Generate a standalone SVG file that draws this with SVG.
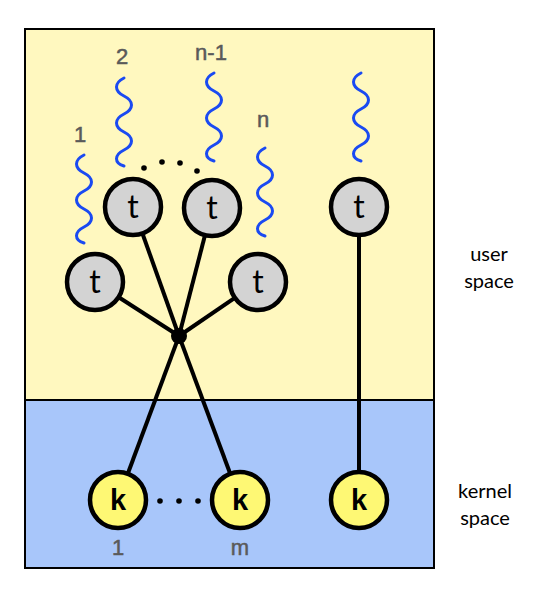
<svg xmlns="http://www.w3.org/2000/svg" width="536" height="594" viewBox="0 0 536 594">
<style>
.conn{stroke:#000;stroke-width:4;fill:none}
.wave{stroke:#1a4af2;stroke-width:3;fill:none;stroke-linecap:round}
.tn{fill:#d3d3d3;stroke:#000;stroke-width:4.5}
.kn{fill:#fef874;stroke:#000;stroke-width:4.5}
.tl{font-family:Lato,"Open Sans",sans-serif;font-size:32px;fill:#000;text-anchor:middle}
.kl{font-family:"Liberation Sans",Arial,sans-serif;font-weight:bold;font-size:29px;fill:#000;text-anchor:middle}
.num{font-family:"Liberation Sans",Arial,sans-serif;font-size:22px;fill:#5a5a5a;stroke:#5a5a5a;stroke-width:0.5;text-anchor:middle}
.side{font-family:Lato,"Open Sans",sans-serif;font-size:20px;fill:#000;text-anchor:middle}
</style>
<g id="background">
<rect x="25" y="29" width="409" height="371" fill="#fff8bf"/>
<rect x="25" y="400" width="409" height="168" fill="#a8c6fa"/>
<line x1="25" y1="400" x2="434" y2="400" stroke="#000" stroke-width="2"/>
<rect x="25" y="29" width="409" height="539" fill="none" stroke="#000" stroke-width="2"/>
</g>
<g id="waves">
<path class="wave" d="M84,155 c-10,5 -10,13 0,18 s10,13 0,18 s-10,13 0,18 s10,13 0,18 s-10,13 0,16"/>
<path class="wave" d="M124,78 c-10,5 -10,13 0,18 s10,13 0,18 s-10,13 0,18 s10,13 0,18 s-10,13 0,16"/>
<path class="wave" d="M214,73 c-10,5 -10,13 0,18 s10,13 0,18 s-10,13 0,18 s10,13 0,18 s-10,13 0,16"/>
<path class="wave" d="M265,148 c-10,5 -10,13 0,18 s10,13 0,18 s-10,13 0,18 s10,13 0,18 s-10,13 0,16"/>
<path class="wave" d="M361,73 c-10,5 -10,13 0,18 s10,13 0,18 s-10,13 0,18 s10,13 0,18 s-10,13 0,16"/>
</g>
<g id="connectors">
<line class="conn" x1="95" y1="282" x2="179" y2="336"/>
<line class="conn" x1="258" y1="282" x2="179" y2="336"/>
<line class="conn" x1="133" y1="207" x2="179" y2="336"/>
<line class="conn" x1="212" y1="208" x2="179" y2="336"/>
<line class="conn" x1="179" y1="336" x2="240" y2="500"/>
<line class="conn" x1="179" y1="336" x2="118" y2="500"/>
<line class="conn" x1="359" y1="207" x2="359" y2="500"/>
<circle cx="179" cy="336" r="8" fill="#000"/>
</g>
<g id="dots">
<circle cx="144" cy="168" r="2.8" fill="#000"/>
<circle cx="162" cy="162" r="2.8" fill="#000"/>
<circle cx="180" cy="163" r="2.8" fill="#000"/>
<circle cx="197" cy="171" r="2.8" fill="#000"/>
<circle cx="160" cy="501" r="2.8" fill="#000"/>
<circle cx="179" cy="501" r="2.8" fill="#000"/>
<circle cx="198" cy="501" r="2.8" fill="#000"/>
</g>
<g id="t1"><circle class="tn" cx="95" cy="282" r="28"/><text class="tl" x="95" y="293">t</text></g>
<g id="t2"><circle class="tn" cx="133" cy="207" r="28"/><text class="tl" x="133" y="218">t</text></g>
<g id="t3"><circle class="tn" cx="212" cy="208" r="28"/><text class="tl" x="212" y="219">t</text></g>
<g id="t4"><circle class="tn" cx="258" cy="282" r="28"/><text class="tl" x="258" y="293">t</text></g>
<g id="t5"><circle class="tn" cx="359" cy="207" r="28"/><text class="tl" x="359" y="218">t</text></g>
<g id="k1"><circle class="kn" cx="118" cy="500" r="28"/><text class="kl" x="118" y="510">k</text></g>
<g id="k2"><circle class="kn" cx="240" cy="500" r="28"/><text class="kl" x="240" y="510">k</text></g>
<g id="k3"><circle class="kn" cx="359" cy="500" r="28"/><text class="kl" x="359" y="510">k</text></g>
<g id="labels">
<text class="num" x="80" y="142">1</text>
<text class="num" x="122" y="64">2</text>
<text class="num" x="211" y="60">n-1</text>
<text class="num" x="263" y="127">n</text>
<text class="num" x="118" y="555">1</text>
<text class="num" x="240" y="555">m</text>
<text class="side" x="489" y="261">user</text>
<text class="side" x="489" y="288">space</text>
<text class="side" x="485" y="498">kernel</text>
<text class="side" x="485" y="525">space</text>
</g>
</svg>
